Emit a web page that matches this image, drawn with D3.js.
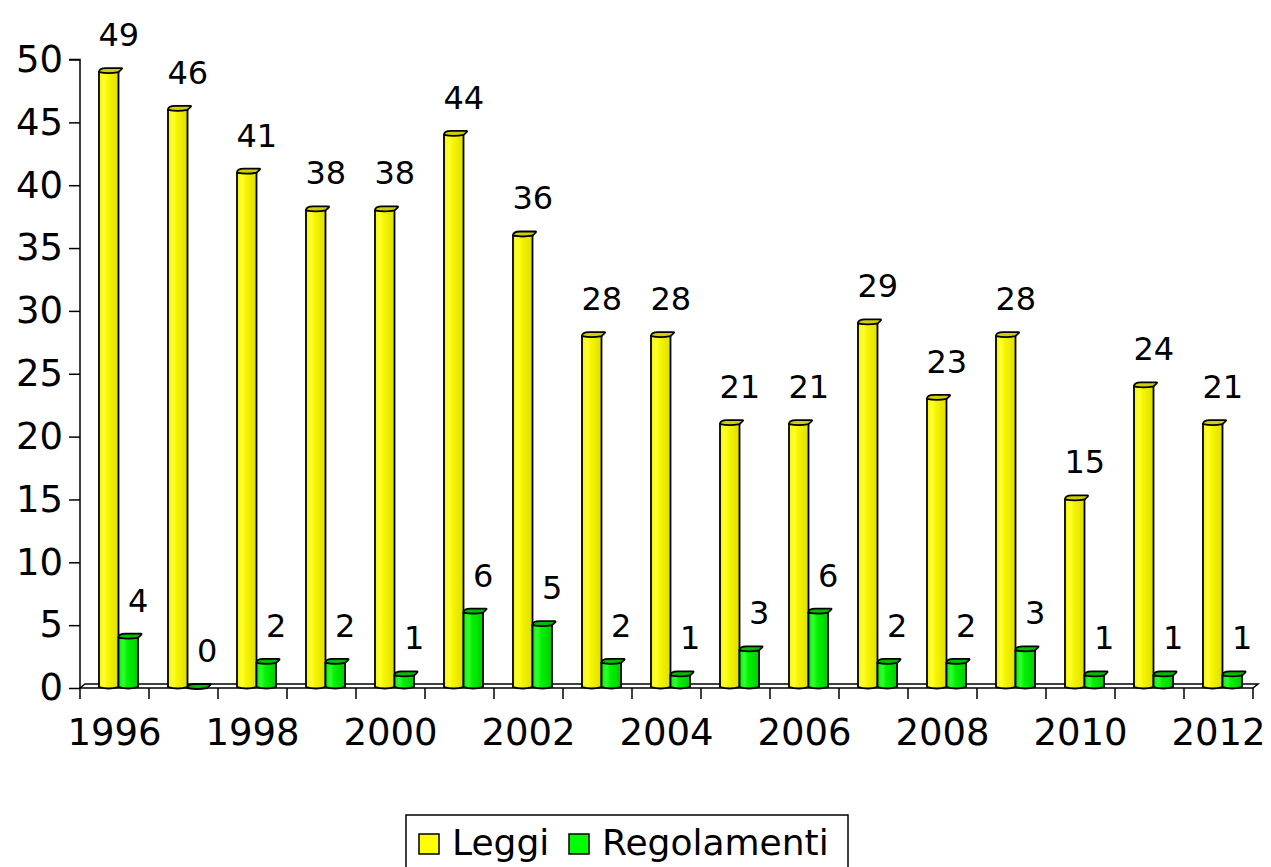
<!DOCTYPE html>
<html>
<head>
<meta charset="utf-8">
<style>
  body { margin: 0; background: #fff; }
  svg { display: block; font-family: "DejaVu Sans", Verdana, sans-serif; }
</style>
<title>Leggi e Regolamenti</title>
</head>
<body>
<script src="https://cdn.jsdelivr.net/npm/d3@7"></script>
<script>
// data
var years = ["1996","1997","1998","1999","2000","2001","2002","2003","2004",
             "2005","2006","2007","2008","2009","2010","2011","2012"];
var leggi = [49, 46, 41, 38, 38, 44, 36, 28, 28, 21, 21, 29, 23, 28, 15, 24, 21];
var regolamenti = [4, 0, 2, 2, 1, 6, 5, 2, 1, 3, 6, 2, 2, 3, 1, 1, 1];
var yTicks = [0, 5, 10, 15, 20, 25, 30, 35, 40, 45, 50];
var seriesNames = ["Leggi", "Regolamenti"];

var W = 1271, H = 867;
var svg = d3.select("body").append("svg")
    .attr("width", W)
    .attr("height", H);

var x = d3.scaleBand()
    .domain(years)
    .range([80, 1253])
    .padding(0);

var y = d3.scaleLinear()
    .domain([0, 50])
    .range([688, 59.5]);

var depthX = 5, depthY = -4;
var barW = 19.5;

// gradients for the cylinder look
var defs = svg.append("defs");
function grad(id, light, mid, dark) {
  var g = defs.append("linearGradient").attr("id", id)
    .attr("x1", "0%").attr("x2", "100%").attr("y1", "0%").attr("y2", "0%");
  g.append("stop").attr("offset", "0%").attr("stop-color", mid);
  g.append("stop").attr("offset", "25%").attr("stop-color", light);
  g.append("stop").attr("offset", "45%").attr("stop-color", mid);
  g.append("stop").attr("offset", "100%").attr("stop-color", dark);
}
grad("gy", "#ffff33", "#f6f600", "#dede00");
grad("gg", "#33ff33", "#00f200", "#00cc00");

// floor
var x0 = x.range()[0], x1 = x.range()[1], base = y(0);
svg.append("path")
  .attr("d", "M" + x0 + "," + base + " L" + (x0 + depthX) + "," + (base + depthY) +
             " L" + (x1 + depthX) + "," + (base + depthY) + " L" + x1 + "," + base + " Z")
  .attr("fill", "#fff")
  .attr("stroke", "#000")
  .attr("stroke-width", 1.5);

// y axis
var yAxis = d3.axisLeft(y).tickValues(yTicks).tickSize(11).tickPadding(6);
var gy = svg.append("g")
  .attr("transform", "translate(" + x0 + ",0)")
  .call(yAxis);
gy.select(".domain").attr("stroke-width", 1.5).attr("d", "M-11," + y(50) + "H0V" + base);
gy.selectAll(".tick line").attr("stroke-width", 1.5);
gy.selectAll("text").style("font-size", "37px").attr("fill", "#000")
  .attr("font-family", "DejaVu Sans, Verdana, sans-serif");

// x axis: ticks at category boundaries, labels on every other year
var bounds = years.map(function(d) { return x(d); }).concat([x1]);
svg.append("g").selectAll("line")
  .data(bounds)
  .enter().append("line")
    .attr("x1", function(d) { return d; })
    .attr("x2", function(d) { return d; })
    .attr("y1", base)
    .attr("y2", base + 11)
    .attr("stroke", "#000")
    .attr("stroke-width", 1.5);

svg.append("g").selectAll("text")
  .data(years.filter(function(d, i) { return i % 2 === 0; }))
  .enter().append("text")
    .attr("x", function(d) { return x(d) + x.bandwidth() / 2; })
    .attr("y", 745)
    .attr("text-anchor", "middle")
    .style("font-size", "37px")
    .text(function(d) { return d; });

// cylinders
function drawBars(values, offset, fillId, capColor) {
  var g = svg.append("g");
  var bars = g.selectAll("g.bar")
    .data(values.map(function(v, i) { return { year: years[i], v: v }; }))
    .enter().append("g").attr("class", "bar");

  bars.append("path")
    .attr("d", function(d) {
      var bx = x(d.year) + offset, ty = y(d.v);
      return "M" + bx + "," + ty + " V" + (base - 1) +
             " Q" + (bx + barW / 2) + "," + (base + 2) + " " + (bx + barW) + "," + (base - 1) +
             " V" + ty + " Z";
    })
    .attr("fill", "url(#" + fillId + ")")
    .attr("stroke", "#000")
    .attr("stroke-width", 1.8);

  bars.append("path")
    .attr("d", function(d) {
      var bx = x(d.year) + offset, ty = y(d.v);
      return "M" + bx + "," + ty +
             " Q" + bx + "," + (ty + depthY) + " " + (bx + depthX + 2) + "," + (ty + depthY) +
             " L" + (bx + barW + depthX - 2) + "," + (ty + depthY) +
             " Q" + (bx + barW + depthX) + "," + (ty + depthY) + " " + (bx + barW) + "," + ty +
             " Q" + (bx + barW / 2) + "," + (ty + 2) + " " + bx + "," + ty + " Z";
    })
    .attr("fill", capColor)
    .attr("stroke", "#000")
    .attr("stroke-width", 1.8);

  bars.append("text")
    .attr("x", function(d) { return x(d.year) + offset + barW / 2 + 10; })
    .attr("y", function(d) { return y(d.v) - 26; })
    .attr("text-anchor", "middle")
    .style("font-size", "32px")
    .text(function(d) { return d.v; });
}

drawBars(leggi, 19, "gy", "#d0d000");
drawBars(regolamenti, 38.5, "gg", "#00bc00");

// legend
var lg = svg.append("g");
lg.append("rect")
  .attr("x", 406).attr("y", 815)
  .attr("width", 442).attr("height", 70)
  .attr("fill", "#fff").attr("stroke", "#000").attr("stroke-width", 1.5);

var colors = ["#ffff00", "#00ff00"];
var legX = [419, 569];
seriesNames.forEach(function(name, i) {
  lg.append("rect")
    .attr("x", legX[i]).attr("y", 834)
    .attr("width", 20).attr("height", 20)
    .attr("fill", colors[i]).attr("stroke", "#000").attr("stroke-width", 1.5);
  lg.append("text")
    .attr("x", legX[i] + 33).attr("y", 855)
    .style("font-size", "36px")
    .text(name);
});
</script>
</body>
</html>
